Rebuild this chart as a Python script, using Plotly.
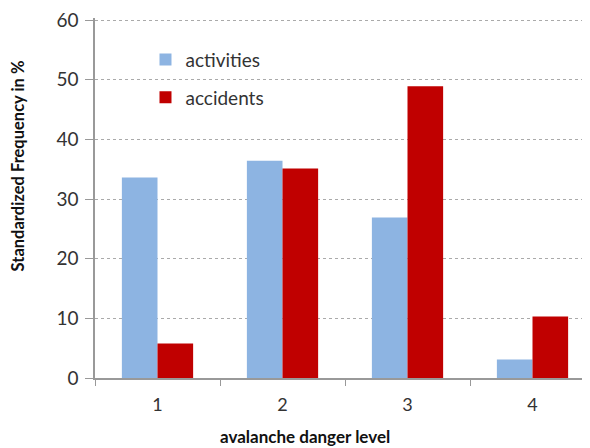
import plotly.graph_objects as go

categories = ["1", "2", "3", "4"]
activities = [33.6, 36.4, 26.9, 3.1]
accidents = [5.8, 35.1, 48.9, 10.3]
y_ticks = [0, 10, 20, 30, 40, 50, 60]

font_family = "Lato, 'Open Sans', sans-serif"

fig = go.Figure()
fig.add_trace(go.Bar(x=categories, y=activities, name="activities",
                     marker=dict(color="#8DB4E2", line=dict(width=0)),
                     legendgroup="a"))
fig.add_trace(go.Bar(x=categories, y=accidents, name="accidents",
                     marker=dict(color="#C00000", line=dict(width=0)),
                     legendgroup="b"))

fig.update_layout(
    width=582, height=440,
    margin=dict(l=87, r=0, t=8, b=70),
    plot_bgcolor="white", paper_bgcolor="white",
    barmode="group", bargap=0.43, bargroupgap=0,
    font=dict(family=font_family, size=16, color="#333333"),
    showlegend=True,
    legend=dict(x=0.102, y=0.937, xanchor="left", yanchor="top",
                bgcolor="rgba(0,0,0,0)", tracegroupgap=10,
                font=dict(size=19, color="#333333")),
    xaxis=dict(type="category", range=[-0.5, 3.46],
               showline=True, linecolor="#999999", linewidth=1.5,
               ticks="outside", tickson="boundaries", ticklen=6,
               tickcolor="#999999", showgrid=False,
               ticklabelstandoff=10,
               tickfont=dict(size=18, color="#333333")),
    yaxis=dict(range=[0, 60.35], tickvals=y_ticks, showline=True,
               linecolor="#999999", linewidth=1.5, ticks="outside",
               ticklen=8, tickcolor="#999999",
               showgrid=True, gridcolor="#aaaaaa", griddash="dot",
               gridwidth=1, zeroline=False, ticklabelstandoff=3,
               ticklabeloverflow="allow",
               tickfont=dict(size=19, color="#333333")),
)

fig.add_annotation(text="<b>Standardized Frequency in %</b>", xref="paper",
                   yref="paper", x=-0.156, y=0.59, textangle=-90,
                   showarrow=False, font=dict(size=16.5, color="#111111"),
                   xanchor="center", yanchor="middle")
fig.add_annotation(text="<b>avalanche danger level</b>", xref="paper",
                   yref="paper", x=0.424, y=-0.162, showarrow=False,
                   font=dict(size=17, color="#111111"),
                   xanchor="center", yanchor="middle")

fig.write_html("out.html")
